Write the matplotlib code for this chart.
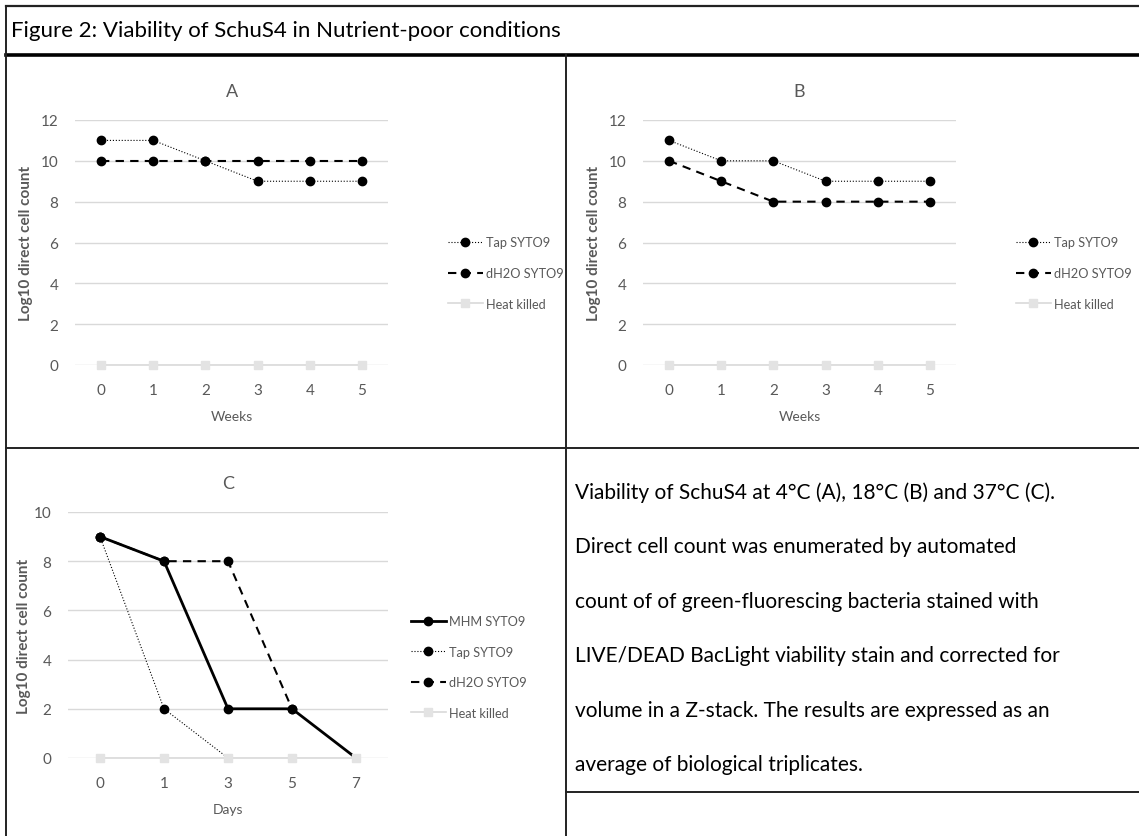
import matplotlib
matplotlib.use("Agg")
import matplotlib.pyplot as plt
import numpy as np

# Data
weeks = [0, 1, 2, 3, 4, 5]
days = [0, 1, 3, 5, 7]

a_tap = [11, 11, 10, 9, 9, 9]
a_dh2o = [10, 10, 10, 10, 10, 10]
a_heat = [0, 0, 0, 0, 0, 0]

b_tap = [11, 10, 10, 9, 9, 9]
b_dh2o = [10, 9, 8, 8, 8, 8]
b_heat = [0, 0, 0, 0, 0, 0]

c_mhm = [9, 8, 2, 2, 0]
c_tap = [9, 2, 0, np.nan, np.nan]
c_dh2o = [9, 8, 8, 2, np.nan]
c_heat = [0, 0, 0, 0, 0]

TITLE = "Figure 2: Viability of SchuS4 in Nutrient-poor conditions"
CAPTION = [
    "Viability of SchuS4 at 4\u00b0C (A), 18\u00b0C (B) and 37\u00b0C (C).",
    "Direct cell count was enumerated by automated",
    "count of of green-fluorescing bacteria stained with",
    "LIVE/DEAD BacLight viability stain and corrected for",
    "volume in a Z-stack. The results are expressed as an",
    "average of biological triplicates.",
]

# Colours / fonts
C_TICK = "#595959"
C_GRID = "#d9d9d9"
C_HEAT = "#d9d9d9"
C_LINE = "#222222"

plt.rcParams["font.family"] = ["Lato", "DejaVu Sans"]

W, H = 1139, 837
fig = plt.figure(figsize=(W / 100, H / 100), dpi=100, facecolor="white")


def frac(x0, y0, x1, y1):
    return [x0 / W, 1 - y1 / H, (x1 - x0) / W, (y1 - y0) / H]


def marks(vals):
    # Excel hides the marker where a series falls to zero
    return [i for i, v in enumerate(vals) if not np.isnan(v) and v > 0]


STYLES = {
    "MHM SYTO9": dict(color="black", lw=2.0, ls="-", marker="o", ms=6),
    "Tap SYTO9": dict(color="black", lw=0.8, ls=":", marker="o", ms=6),
    "dH2O SYTO9": dict(color="black", lw=1.5, ls=(0, (4, 3)), marker="o", ms=6),
    "Heat killed": dict(color=C_HEAT, lw=1.2, ls="-", marker="s", ms=6, mfc="#e3e3e3", mec="#e3e3e3"),
}


def panel(box, cats, series, ymax, title, xlabel, legend_xy, ylabel_x):
    ax = fig.add_axes(frac(*box))
    x = np.arange(len(cats))
    for name, vals in series:
        st = dict(STYLES[name])
        z = 4 if name == "Heat killed" else 3
        ax.plot(x, vals, label=name, markevery=marks(vals) if name != "Heat killed" else None,
                clip_on=False, zorder=z, **st)
    ax.set_xlim(-0.5, len(cats) - 0.5)
    ax.set_ylim(0, ymax)
    ax.set_yticks(range(0, ymax + 1, 2))
    ax.set_xticks(x)
    ax.set_xticklabels([str(c) for c in cats])
    for s in ax.spines.values():
        s.set_visible(False)
    ax.grid(axis="y", color=C_GRID, lw=1, zorder=0)
    ax.set_axisbelow(True)
    ax.tick_params(length=0, colors=C_TICK, labelsize=11)
    ax.tick_params(axis="x", pad=13)
    ax.tick_params(axis="y", pad=12)
    ax.set_title(title, color=C_TICK, fontsize=13, pad=17)
    ax.set_xlabel(xlabel, color=C_TICK, fontsize=10, labelpad=9)
    ax.set_ylabel("Log10 direct cell count", color=C_TICK, fontsize=11, fontweight="bold")
    ax.yaxis.set_label_coords((ylabel_x - box[0]) / (box[2] - box[0]), 0.5)
    ax.legend(loc="center left", bbox_to_anchor=(legend_xy[0] / W, 1 - legend_xy[1] / H),
              bbox_transform=fig.transFigure, frameon=False, fontsize=9.2,
              labelcolor=C_TICK, handlelength=2.8, handletextpad=0.25, labelspacing=1.45)
    return ax


panel((75, 121, 388, 366), weeks,
      [("Tap SYTO9", a_tap), ("dH2O SYTO9", a_dh2o), ("Heat killed", a_heat)],
      12, "A", "Weeks", (436, 274), 33)
panel((643, 121, 956, 366), weeks,
      [("Tap SYTO9", b_tap), ("dH2O SYTO9", b_dh2o), ("Heat killed", b_heat)],
      12, "B", "Weeks", (1004, 274), 601)
panel((68, 513, 388, 759), days,
      [("MHM SYTO9", c_mhm), ("Tap SYTO9", c_tap), ("dH2O SYTO9", c_dh2o), ("Heat killed", c_heat)],
      10, "C", "Days", (399, 668), 31)

# Table borders and text (pixel coordinates)
ov = fig.add_axes([0, 0, 1, 1], zorder=-1)
ov.set_xlim(0, W)
ov.set_ylim(H, 0)
ov.axis("off")
ov.plot([6, W], [7, 7], color=C_LINE, lw=1.6)
ov.plot([6, W], [56, 56], color="black", lw=2.6)
ov.plot([6, 6], [7, H], color=C_LINE, lw=1.4)
ov.plot([566, 566], [56, H], color=C_LINE, lw=1.4)
ov.plot([6, W], [449, 449], color=C_LINE, lw=1.4)
ov.plot([566, W], [793, 793], color=C_LINE, lw=1.4)

ov.text(11, 31, TITLE, fontsize=16, color="black", va="center", ha="left")
for i, line in enumerate(CAPTION):
    ov.text(575, 493 + i * 54.4, line, fontsize=15, color="black", va="center", ha="left")

fig.savefig("out.png", dpi=100, facecolor="white")
